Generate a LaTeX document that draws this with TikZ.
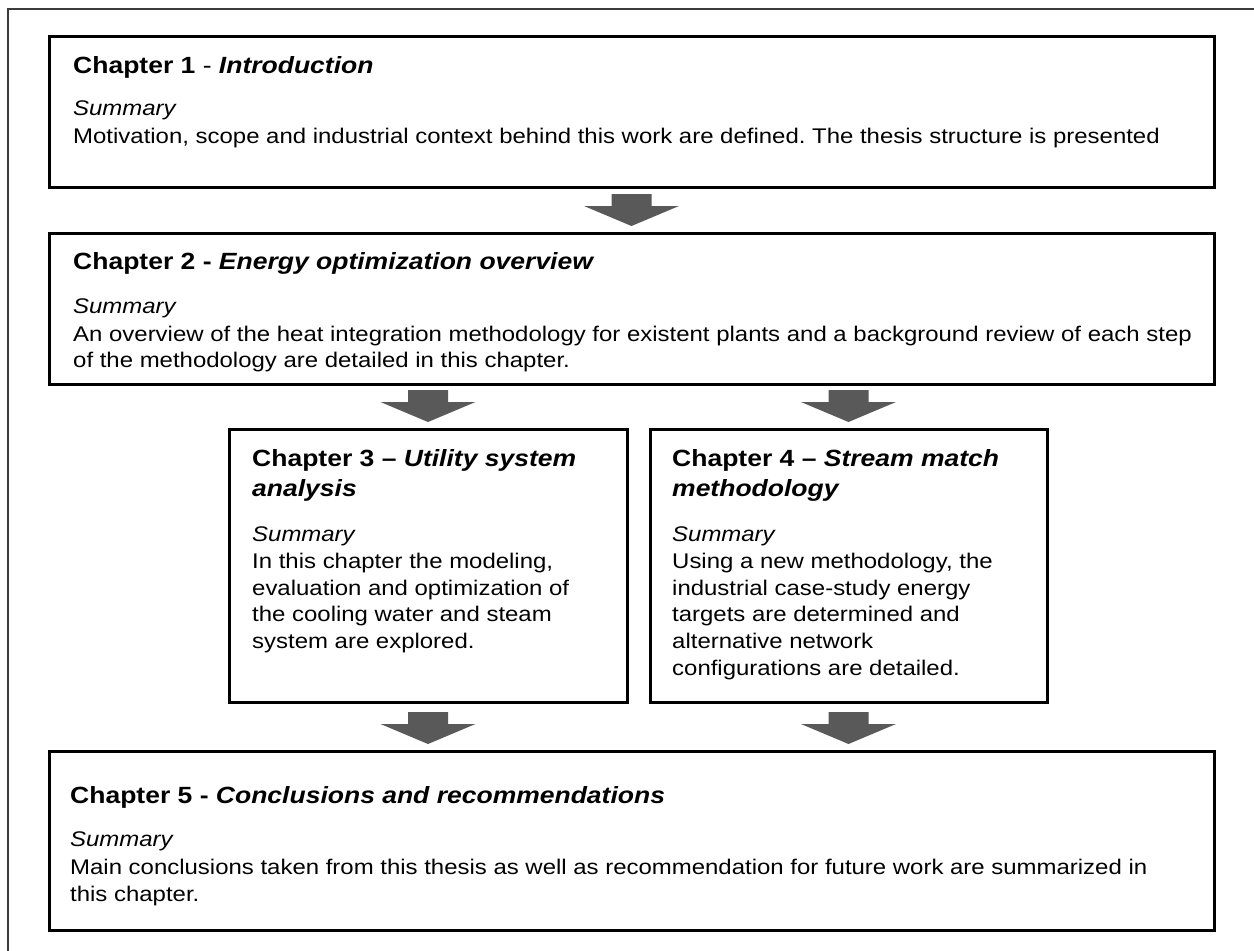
\documentclass[tikz,border=0pt]{standalone}
\usepackage{fontspec}
\setmainfont[FakeStretch=1.13]{Liberation Sans}
\usetikzlibrary{calc}
\definecolor{arrowgray}{RGB}{89,89,89}
\definecolor{framegray}{RGB}{60,60,60}
\newcommand\blockarrow[2]{%
  \fill[arrowgray] let \p1=(#1.south), \p2=(#2.north) in
    (\x1-20pt,\y2+39pt) -- (\x1+20pt,\y2+39pt) -- (\x1+20pt,\y2+27pt) --
    (\x1+47.5pt,\y2+27pt) -- (\x1,\y2+7pt) -- (\x1-47.5pt,\y2+27pt) --
    (\x1-20pt,\y2+27pt) -- cycle;}
\frenchspacing
\begin{document}
\begin{tikzpicture}[x=1pt,y=-1pt,
  chbox/.style={draw=black, line width=3pt, outer sep=0pt, inner sep=0pt, anchor=north west},
  hd/.style={anchor=base west, inner sep=0pt, font=\fontsize{23.45}{30}\selectfont\bfseries},
  bd/.style={anchor=base west, inner sep=0pt, font=\fontsize{21.2}{27}\selectfont}]
\useasboundingbox (0,0) rectangle (1254,951);
\fill[white] (0,0) rectangle (1254,951);
% outer frame (only left and top edges visible)
\draw[framegray, line width=1.5pt] (8,960) -- (8,9) -- (1260,9);

% boxes
\node[chbox, minimum width=1165pt, minimum height=151pt] (b1) at (49,36) {};
\node[chbox, minimum width=1165pt, minimum height=151pt] (b2) at (49,233) {};
\node[chbox, minimum width=398pt, minimum height=273pt] (b3) at (229,429) {};
\node[chbox, minimum width=397pt, minimum height=273pt] (b4) at (650,429) {};
\node[chbox, minimum width=1165pt, minimum height=179pt] (b5) at (49,751) {};

% arrows
\blockarrow{b1}{b2}
\blockarrow{b3}{b3}
\blockarrow{b4}{b4}
\blockarrow{b3}{b5}
\blockarrow{b4}{b5}

% box 1
\node[hd] (h1) at (73,73) {Chapter 1 {\mdseries -} \textit{Introduction}};
\node[bd] (s1) at (73,115) {\textit{Summary}};
\node[bd] (t1a) at (73,143) {Motivation, scope and industrial context behind this work are defined. The thesis structure is presented};

% box 2
\node[hd] (h2) at (73,269) {Chapter 2 - \textit{Energy optimization overview}};
\node[bd] (s2) at (73,313) {\textit{Summary}};
\node[bd] (t2a) at (73,341) {An overview of the heat integration methodology for existent plants and a background review of each step};
\node[bd] (t2b) at (73,367) {of the methodology are detailed in this chapter.};

% box 3
\node[hd] (h3a) at (252,466) {Chapter 3 -- \textit{Utility system}};
\node[hd] (h3b) at (252,496) {\textit{analysis}};
\node[bd] (s3) at (252,541) {\textit{Summary}};
\node[bd] (t3a) at (252,568) {In this chapter the modeling,};
\node[bd] (t3b) at (252,595) {evaluation and optimization of};
\node[bd] (t3c) at (252,621) {the cooling water and steam};
\node[bd] (t3d) at (252,648) {system are explored.};

% box 4
\node[hd] (h4a) at (672,466) {Chapter 4 -- \textit{Stream match}};
\node[hd] (h4b) at (672,496) {\textit{methodology}};
\node[bd] (s4) at (672,541) {\textit{Summary}};
\node[bd] (t4a) at (672,568) {Using a new methodology, the};
\node[bd] (t4b) at (672,595) {industrial case-study energy};
\node[bd] (t4c) at (672,621) {targets are determined and};
\node[bd] (t4d) at (672,648) {alternative network};
\node[bd] (t4e) at (672,675) {configurations are detailed.};

% box 5
\node[hd] (h5) at (70,803) {Chapter 5 - \textit{Conclusions and recommendations}};
\node[bd] (s5) at (70,846) {\textit{Summary}};
\node[bd] (t5a) at (70,874) {Main conclusions taken from this thesis as well as recommendation for future work are summarized in};
\node[bd] (t5b) at (70,901) {this chapter.};
\end{tikzpicture}
\end{document}
